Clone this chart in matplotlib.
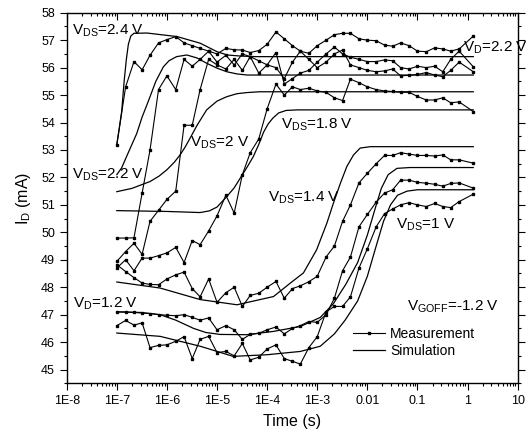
import matplotlib
matplotlib.use('Agg')
import matplotlib.pyplot as plt
from matplotlib.ticker import FixedLocator, NullFormatter, MultipleLocator

plt.rcParams['font.family'] = ['Liberation Sans', 'DejaVu Sans']
plt.rcParams['mathtext.fontset'] = 'custom'
plt.rcParams['mathtext.rm'] = 'Liberation Sans'
plt.rcParams['mathtext.it'] = 'Liberation Sans:italic'

# measurement time grid (s)
t_meas = [1.0e-7, 1.5e-7, 2.2e-7, 3.2e-7, 4.6e-7, 6.8e-7,
          1.0e-6, 1.5e-6, 2.2e-6, 3.2e-6, 4.6e-6, 6.8e-6,
          1.0e-5, 1.5e-5, 2.2e-5, 3.2e-5, 4.6e-5, 6.8e-5,
          1.0e-4, 1.5e-4, 2.2e-4, 3.2e-4, 4.6e-4, 6.8e-4,
          1.0e-3, 1.5e-3, 2.2e-3, 3.2e-3, 4.6e-3, 6.8e-3,
          1.0e-2, 1.5e-2, 2.2e-2, 3.2e-2, 4.6e-2, 6.8e-2,
          1.0e-1, 1.5e-1, 2.2e-1, 3.2e-1, 4.6e-1, 6.8e-1, 1.3]

# measured drain current (mA)
meas_24 = [53.19, 55.3, 56.22, 55.92, 56.45, 56.9, 57.02, 57.13, 56.9, 56.8, 56.7, 56.6,
           56.5, 56.7, 56.65, 56.64, 56.55, 56.62, 56.85, 57.3, 57.05, 56.8, 56.6, 56.52,
           56.8, 57.0, 57.2, 57.25, 57.25, 57.05, 57.0, 56.98, 56.82, 56.78, 56.9, 56.8,
           56.6, 56.58, 56.72, 56.68, 56.6, 56.68, 57.15]
meas_22 = [49.79, 49.79, 49.8, 51.43, 53.0, 55.2, 55.7, 55.2, 56.3, 56.05, 56.3, 56.6,
           56.2, 56.45, 56.1, 56.5, 56.4, 55.8, 56.1, 56.55, 55.4, 55.6, 55.8, 55.9,
           56.2, 56.5, 56.75, 56.5, 56.38, 56.3, 56.22, 56.22, 56.28, 56.25, 56.0, 55.95,
           56.05, 56.0, 56.05, 55.85, 56.3, 56.6, 56.03]
meas_20 = [48.94, 49.3, 49.6, 49.2, 50.4, 50.8, 51.2, 51.5, 53.9, 53.9, 55.2, 56.3,
           56.1, 55.95, 56.3, 55.9, 56.4, 56.25, 56.1, 56.0, 55.6, 56.2, 56.6, 56.3,
           56.0, 56.2, 56.5, 56.64, 56.1, 56.0, 55.9, 55.85, 55.88, 55.95, 55.7, 55.72,
           55.75, 55.82, 55.73, 55.67, 55.9, 56.2, 55.85]
meas_18 = [48.7, 49.0, 48.6, 49.06, 49.06, 49.15, 49.25, 49.45, 48.9, 49.7, 49.55, 50.05,
           50.6, 51.35, 50.7, 52.1, 52.9, 53.4, 54.5, 55.4, 55.0, 55.3, 55.2, 55.25,
           55.15, 55.1, 54.9, 54.8, 55.58, 55.45, 55.3, 55.2, 55.15, 55.13, 55.1, 55.1,
           54.95, 54.82, 54.82, 54.9, 54.72, 54.75, 54.4]
meas_14 = [48.82, 48.57, 48.35, 48.15, 48.1, 48.09, 48.3, 48.45, 48.55, 47.95, 47.65, 48.3,
           47.45, 47.8, 48.0, 47.3, 47.7, 47.78, 48.0, 48.21, 47.6, 47.95, 48.05, 48.2,
           48.4, 49.1, 49.5, 50.4, 51.0, 51.8, 52.15, 52.5, 52.8, 52.8, 52.9, 52.85,
           52.8, 52.8, 52.78, 52.82, 52.64, 52.64, 52.52]
meas_12 = [47.1, 47.1, 47.08, 47.06, 47.04, 47.0, 46.98, 46.96, 47.0, 46.9, 46.8, 46.88,
           46.45, 46.6, 46.45, 46.1, 46.28, 46.32, 46.45, 46.55, 46.3, 46.5, 46.6, 46.75,
           46.72, 47.0, 47.6, 48.6, 49.1, 50.2, 50.65, 51.1, 51.43, 51.55, 51.9, 51.9,
           51.82, 51.79, 51.75, 51.68, 51.78, 51.8, 51.61]
meas_10 = [46.6, 46.79, 46.62, 46.7, 45.8, 45.88, 45.9, 46.03, 46.2, 45.4, 46.1, 46.21,
           45.62, 45.66, 45.5, 45.95, 45.35, 45.45, 45.75, 45.9, 45.4, 45.3, 45.2, 45.8,
           46.2, 47.1, 47.3, 47.3, 47.65, 48.7, 49.4, 50.2, 50.68, 50.85, 51.0, 51.08,
           51.0, 50.94, 51.05, 50.94, 50.9, 51.12, 51.39]

# simulated curves
t_sim_24 = [1.0e-7, 1.12e-7, 1.25e-7, 1.4e-7, 1.55e-7, 1.7e-7, 1.9e-7, 2.2e-7, 4.0e-7,
            1.6e-6, 4.6e-6, 1.0e-5, 1.6e-5, 3.0e-5, 6.0e-5, 1.3]
sim_24 = [53.2, 53.8, 54.4, 55.5, 56.3, 56.85, 57.15, 57.25, 57.26,
          57.13, 56.89, 56.58, 56.46, 56.42, 56.4, 56.4]
t_sim_22 = [1.0e-7, 1.25e-7, 1.6e-7, 2.0e-7, 2.5e-7, 3.2e-7, 4.0e-7, 4.6e-7, 6.0e-7, 8.5e-7,
            1.1e-6, 1.56e-6, 2.5e-6, 4.0e-6, 6.2e-6, 1.0e-5, 1.56e-5, 2.5e-5, 4.0e-5, 1.3]
sim_22 = [52.1, 52.35, 52.8, 53.2, 53.6, 54.2, 54.65, 54.94, 55.5, 56.03,
          56.25, 56.4, 56.46, 56.35, 56.16, 55.98, 55.85, 55.77, 55.73, 55.73]
t_sim_20 = [1.0e-7, 2.0e-7, 4.6e-7, 7.0e-7, 1.0e-6, 1.4e-6, 1.83e-6, 2.3e-6, 2.9e-6, 4.0e-6,
            6.2e-6, 1.0e-5, 1.56e-5, 2.5e-5, 3.9e-5, 7.0e-5, 1.3]
sim_20 = [51.48, 51.6, 51.85, 52.05, 52.28, 52.55, 52.82, 53.1, 53.43, 53.9,
          54.46, 54.78, 54.94, 55.05, 55.09, 55.12, 55.12]
t_sim_18 = [1.0e-7, 1.0e-6, 4.6e-6, 7.0e-6, 1.0e-5, 1.56e-5, 2.2e-5, 2.9e-5, 4.0e-5, 5.3e-5,
            6.8e-5, 8.5e-5, 1.05e-4, 1.3e-4, 1.7e-4, 2.4e-4, 4.0e-4, 1.3]
sim_18 = [50.79, 50.76, 50.72, 50.78, 50.92, 51.3, 51.62, 51.97, 52.38, 52.76,
          53.2, 53.65, 53.95, 54.16, 54.35, 54.44, 54.46, 54.46]
t_sim_14 = [1.0e-7, 7.3e-7, 4.6e-6, 2.5e-5, 1.34e-4, 2.9e-4, 5.3e-4, 9.7e-4, 1.56e-3, 2.1e-3,
            2.9e-3, 3.9e-3, 5.3e-3, 7.2e-3, 1.15e-2, 1.3]
sim_14 = [48.19, 47.97, 47.55, 47.36, 47.66, 48.15, 48.52, 49.36, 50.34, 51.06,
          51.79, 52.4, 52.82, 53.07, 53.12, 53.12]
t_sim_12 = [1.0e-7, 3.0e-7, 7.3e-7, 1.5e-6, 3.4e-6, 6.0e-6, 1.15e-5, 3.9e-5, 1.34e-4, 4.6e-4,
            1.15e-3, 2.1e-3, 3.7e-3, 6.4e-3, 1.0e-2, 1.45e-2, 1.9e-2, 2.6e-2, 3.9e-2, 7.1e-2, 1.3]
sim_12 = [47.1, 47.08, 47.0, 46.8, 46.5, 46.35, 46.28, 46.27, 46.39, 46.57,
          46.9, 47.4, 48.1, 48.9, 49.9, 50.9, 51.6, 52.1, 52.33, 52.36, 52.36]
t_sim_10 = [1.0e-7, 7.3e-7, 4.6e-6, 2.1e-5, 9.9e-5, 4.6e-4, 1.15e-3, 2.2e-3, 3.6e-3, 6.4e-3,
            1.0e-2, 1.5e-2, 2.1e-2, 2.9e-2, 4.0e-2, 6.2e-2, 1.0e-1, 1.3]
sim_10 = [46.33, 46.21, 45.85, 45.48, 45.54, 45.66, 45.85, 46.3, 46.8, 47.5,
          48.4, 49.5, 50.4, 51.0, 51.35, 51.5, 51.55, 51.55]

x_ticks = [1e-8, 1e-7, 1e-6, 1e-5, 1e-4, 1e-3, 1e-2, 1e-1, 1, 10]
x_labels = ['1E-8', '1E-7', '1E-6', '1E-5', '1E-4', '1E-3', '0.01', '0.1', '1', '10']

fig = plt.figure(figsize=(5.29, 4.40), dpi=100)
ax = fig.add_axes([0.1261, 0.1289, 0.8525, 0.8422])

meas = [meas_24, meas_22, meas_20, meas_18, meas_14, meas_12, meas_10]
sims = [(t_sim_24, sim_24), (t_sim_22, sim_22), (t_sim_20, sim_20), (t_sim_18, sim_18),
        (t_sim_14, sim_14), (t_sim_12, sim_12), (t_sim_10, sim_10)]

for i, (ts, ys) in enumerate(sims):
    ax.plot(ts, ys, '-', color='black', lw=0.9,
            label='Simulation' if i == 0 else None)
for i, ys in enumerate(meas):
    ax.plot(t_meas, ys, '-s', color='black', lw=0.8, ms=1.8,
            label='Measurement' if i == 0 else None)

ax.set_xscale('log')
ax.set_xlim(1e-8, 10)
ax.set_ylim(44.5, 58)
ax.xaxis.set_major_locator(FixedLocator(x_ticks))
ax.set_xticklabels(x_labels)
ax.xaxis.set_minor_locator(FixedLocator([m * 10.0**e for e in range(-8, 1) for m in range(2, 10)]))
ax.xaxis.set_minor_formatter(NullFormatter())
ax.yaxis.set_major_locator(MultipleLocator(1))
ax.yaxis.set_minor_locator(MultipleLocator(0.5))

# Origin-style ticks: out on bottom/left/right, in on top
ax.tick_params(which='both', top=True, right=True, direction='out', labelsize=9, width=0.8)
ax.tick_params(axis='x', which='both', top=True, direction='out')
ax.tick_params(which='major', length=5)
ax.tick_params(which='minor', length=2.5)
ax.xaxis.set_tick_params(which='both', top=True)
for tk in ax.xaxis.get_major_ticks() + ax.xaxis.get_minor_ticks():
    tk.tick2line.set_marker(3)  # pointing down into the axes
for s in ax.spines.values():
    s.set_linewidth(1.0)

ax.set_xlabel('Time (s)', fontsize=11.5, labelpad=5)
ax.set_ylabel(r'I$_\mathrm{D}$ (mA)', fontsize=11.5, labelpad=6)

# curve annotations
fs = 11
ax.text(1.26e-8, 57.19, r'V$_\mathrm{DS}$=2.4 V', fontsize=fs, va='baseline')
ax.text(1.3e-8, 51.97, r'V$_\mathrm{DS}$=2.2 V', fontsize=fs, va='baseline')
ax.text(2.9e-6, 53.12, r'V$_\mathrm{DS}$=2 V', fontsize=fs, va='baseline')
ax.text(1.9e-4, 53.79, r'V$_\mathrm{DS}$=1.8 V', fontsize=fs, va='baseline')
ax.text(1.05e-4, 51.12, r'V$_\mathrm{DS}$=1.4 V', fontsize=fs, va='baseline')
ax.text(3.7e-2, 50.15, r'V$_\mathrm{DS}$=1 V', fontsize=fs, va='baseline')
ax.text(1.32e-8, 47.24, r'V$_\mathrm{D}$=1.2 V', fontsize=fs, va='baseline')
ax.text(0.8, 56.58, r'V$_\mathrm{D}$=2.2 V', fontsize=fs, va='baseline')
ax.text(6.3e-2, 47.14, r'V$_\mathrm{GOFF}$=-1.2 V', fontsize=fs, va='baseline')

handles, labels = ax.get_legend_handles_labels()
ax.legend(handles[::-1], labels[::-1], loc='center left', bbox_to_anchor=(0.635, 0.11),
          frameon=False, fontsize=10, handlelength=2.3, handletextpad=0.35,
          labelspacing=0.2, borderpad=0, borderaxespad=0, numpoints=1)

fig.savefig('out.png', dpi=100)
